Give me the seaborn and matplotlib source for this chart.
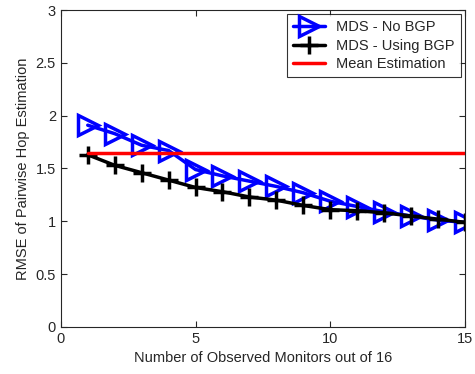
import numpy as np
import pandas as pd
import matplotlib
matplotlib.use("Agg")
import matplotlib.pyplot as plt
import seaborn as sns

sns.set_style("ticks")
plt.rcParams['font.family'] = ['Liberation Sans', 'DejaVu Sans']

monitors = [1, 2, 3, 4, 5, 6, 7, 8, 9, 10, 11, 12, 13, 14, 15]
no_bgp = [1.91, 1.83, 1.72, 1.67, 1.49, 1.43, 1.38, 1.33, 1.27, 1.19, 1.14, 1.09, 1.05, 1.01, 0.99]
using_bgp = [1.63, 1.53, 1.46, 1.39, 1.32, 1.28, 1.23, 1.20, 1.15, 1.11, 1.10, 1.08, 1.05, 1.02, 0.99]
mean_est = [1.65] * 15

df = pd.DataFrame({"x": monitors, "nobgp": no_bgp, "bgp": using_bgp, "mean": mean_est})

fig = plt.figure(figsize=(4.75, 3.74), dpi=100)
ax = fig.add_axes([0.128, 0.126, 0.851, 0.847])

sns.lineplot(data=df, x="x", y="nobgp", ax=ax, color="#0000ff", lw=2.5, linestyle="-",
	marker=">", markersize=14, markerfacecolor="none", markeredgecolor="#0000ff",
	markeredgewidth=2.5, label="MDS - No BGP")
sns.lineplot(data=df, x="x", y="bgp", ax=ax, color="black", lw=2.5, linestyle="-",
	marker="+", markersize=13, markeredgewidth=2.5, markeredgecolor="black",
	label="MDS - Using BGP")
sns.lineplot(data=df, x="x", y="mean", ax=ax, color="#ff0000", lw=2.5, linestyle="-",
	label="Mean Estimation")

ax.set_xlim(0, 15)
ax.set_ylim(0, 3)
ax.set_xticks([0, 5, 10, 15])
ax.set_yticks(np.arange(0, 3.01, 0.5))
ax.set_yticklabels(["0", "0.5", "1", "1.5", "2", "2.5", "3"])
ax.tick_params(direction="in", labelsize=10.5, length=4, top=True, right=True)
for s in ax.spines.values():
	s.set_linewidth(0.8)
ax.set_xlabel("Number of Observed Monitors out of 16", fontsize=10.5)
ax.set_ylabel("RMSE of Pairwise Hop Estimation", fontsize=10.5)

leg = ax.legend(loc="upper right", fontsize=10.5, frameon=True, fancybox=False,
	edgecolor="black", borderaxespad=0.3, handlelength=2.2, labelspacing=0.3)
leg.get_frame().set_linewidth(0.8)

plt.savefig("out.png", dpi=100)
